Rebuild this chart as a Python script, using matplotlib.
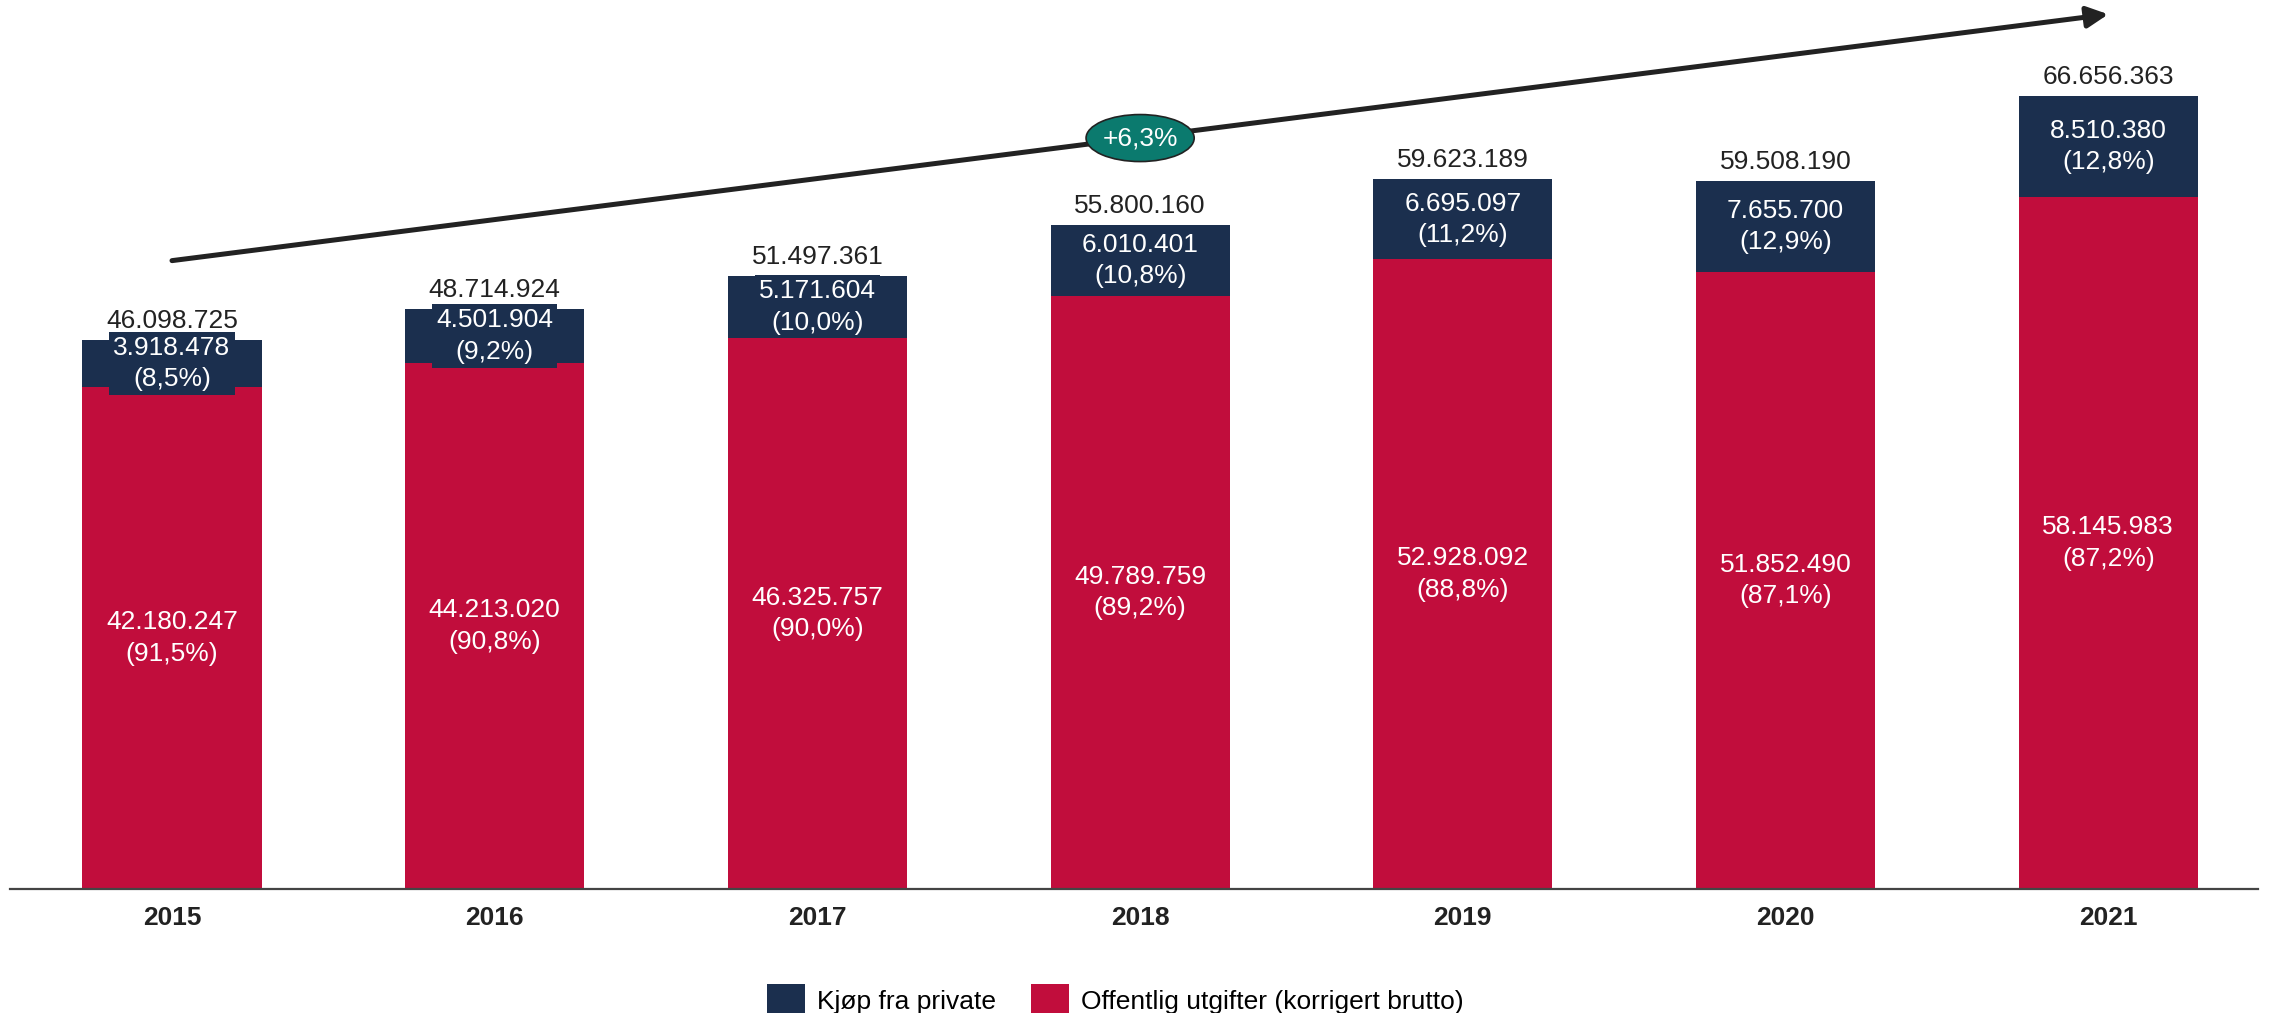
import matplotlib
matplotlib.use("Agg")
import matplotlib.pyplot as plt
from matplotlib.patches import Ellipse, Patch

plt.rcParams['font.family'] = ['Liberation Sans', 'DejaVu Sans']

# Data
years = ["2015", "2016", "2017", "2018", "2019", "2020", "2021"]
public = [42180247, 44213020, 46325757, 49789759, 52928092, 51852490, 58145983]
private = [3918478, 4501904, 5171604, 6010401, 6695097, 7655700, 8510380]
growth_label = "+6,3%"
legend_private = "Kjøp fra private"
legend_public = "Offentlig utgifter (korrigert brutto)"

RED = "#C10D3C"
NAVY = "#1B2F4E"
TEAL = "#0B7A6E"
DARK = "#222222"
FS = 19


def fmt_int(v):
    return f"{v:,.0f}".replace(",", ".")


def fmt_pct(p):
    return f"({p:.1f}%)".replace(".", ",")


totals = [a + b for a, b in zip(public, private)]
x = list(range(len(years)))

fig = plt.figure(figsize=(22.72, 10.13), dpi=100)
ax = fig.add_axes([10 / 2272, 0.1224, 2248 / 2272, 0.8776])

ax.bar(x, public, width=0.555, color=RED, zorder=2)
ax.bar(x, private, width=0.555, bottom=public, color=NAVY, zorder=2)

for xi, pub, prv, tot in zip(x, public, private, totals):
    ax.text(xi, pub / 2, f"{fmt_int(pub)}\n{fmt_pct(pub / tot * 100)}",
            ha="center", va="center", color="white", fontsize=FS,
            linespacing=1.38, zorder=4)
    ax.text(xi, pub + prv / 2, f"{fmt_int(prv)}\n{fmt_pct(prv / tot * 100)}",
            ha="center", va="center", color="white", fontsize=FS,
            linespacing=1.38, zorder=4,
            bbox=dict(boxstyle="square,pad=0.15", fc=NAVY, ec="none"))
    ax.annotate(fmt_int(tot), xy=(xi, tot), xytext=(0, 8.6), textcoords="offset points",
                ha="center", va="baseline", color=DARK, fontsize=FS, zorder=4)

# Growth arrow across the period with CAGR badge
ax.annotate("", xy=(x[-1], 73.5e6), xytext=(x[0], 52.8e6),
            arrowprops=dict(arrowstyle="-|>,head_length=0.4,head_width=0.2",
                            lw=3.6, color=DARK, mutation_scale=32,
                            shrinkA=0, shrinkB=0),
            zorder=5)
ax.add_patch(Ellipse((3, 63.1e6), 0.335, 3.95e6, fc=TEAL, ec=DARK, lw=1.2, zorder=6))
ax.text(3, 63.1e6, growth_label, ha="center", va="center", color="white",
        fontsize=FS, zorder=7)

ax.set_xlim(-0.502, 6.464)
ax.set_ylim(0, 74.7e6)
ax.set_xticks(x)
ax.set_xticklabels(years, fontsize=FS, fontweight="bold", color=DARK)
ax.tick_params(axis="x", length=0, pad=12)
ax.set_yticks([])
for side in ("left", "right", "top"):
    ax.spines[side].set_visible(False)
ax.spines["bottom"].set_color("#444444")
ax.spines["bottom"].set_linewidth(1.6)
ax.spines["bottom"].set_zorder(3)

handles = [Patch(fc=NAVY, ec="none", label=legend_private),
           Patch(fc=RED, ec="none", label=legend_public)]
fig.legend(handles=handles, loc="center", bbox_to_anchor=(0.491, 0.0128), ncol=2,
           frameon=False, fontsize=FS, handlelength=1.44, handleheight=1.44,
           handletextpad=0.45, columnspacing=1.33, borderpad=0)

fig.savefig("out.png", dpi=100)
